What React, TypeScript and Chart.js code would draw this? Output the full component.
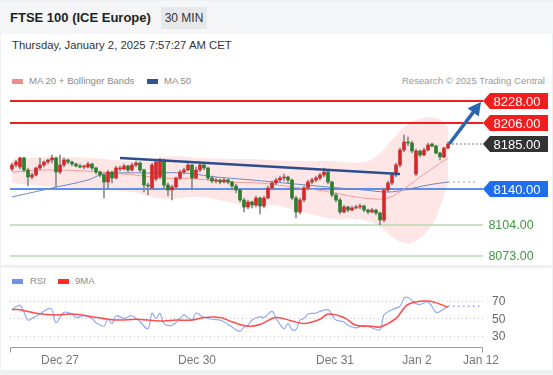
import React, { useEffect, useRef } from "react";
import { Chart, registerables } from "chart.js";

Chart.register(...registerables);

const FONT = '"Liberation Sans", Arial, Helvetica, sans-serif';

// ---------- price candles (30 min) ----------
const opens = [
  8160, 8164, 8162, 8171, 8159, 8152, 8154, 8161, 8164, 8167,
  8169, 8171, 8157, 8164, 8169, 8167, 8165, 8163, 8162, 8162,
  8165, 8161, 8157, 8154, 8147, 8157, 8151, 8160, 8160, 8163,
  8159, 8164, 8166, 8159, 8144, 8141, 8150, 8152, 8169, 8144,
  8139, 8142, 8151, 8157, 8159, 8164, 8151, 8159, 8164, 8161,
  8151, 8148, 8149, 8147, 8149, 8147, 8143, 8139, 8129, 8122,
  8127, 8124, 8131, 8123, 8131, 8141, 8146, 8149, 8151, 8152,
  8149, 8131, 8117, 8129, 8141, 8147, 8149, 8151, 8154, 8157,
  8147, 8134, 8129, 8117, 8122, 8119, 8121, 8122, 8123, 8119,
  8117, 8119, 8116, 8109, 8139, 8146, 8154, 8164, 8179, 8187,
  8186, 8155, 8178, 8174, 8179, 8185, 8183, 8176, 8172, 8181,
];
const highs = [
  8166, 8169, 8172, 8172, 8161, 8156, 8162, 8171, 8168, 8170,
  8174, 8172, 8174, 8171, 8170, 8168, 8166, 8165, 8164, 8167,
  8166, 8162, 8158, 8156, 8159, 8158, 8163, 8163, 8165, 8164,
  8166, 8168, 8167, 8160, 8146, 8166, 8169, 8171, 8170, 8146,
  8144, 8152, 8159, 8161, 8167, 8165, 8162, 8167, 8166, 8162,
  8153, 8151, 8150, 8151, 8150, 8148, 8145, 8140, 8131, 8129,
  8128, 8133, 8132, 8133, 8143, 8148, 8151, 8153, 8155, 8153,
  8150, 8133, 8131, 8143, 8149, 8151, 8153, 8156, 8161, 8159,
  8148, 8136, 8131, 8124, 8123, 8123, 8124, 8125, 8124, 8120,
  8121, 8120, 8117, 8141, 8148, 8156, 8166, 8181, 8194, 8192,
  8188, 8180, 8179, 8181, 8186, 8186, 8184, 8177, 8182, 8187,
];
const lows = [
  8158, 8162, 8160, 8157, 8143, 8150, 8153, 8159, 8162, 8165,
  8166, 8142, 8155, 8162, 8165, 8163, 8162, 8161, 8160, 8161,
  8159, 8155, 8152, 8131, 8141, 8146, 8150, 8158, 8159, 8157,
  8158, 8162, 8157, 8137, 8134, 8140, 8148, 8150, 8140, 8133,
  8129, 8140, 8149, 8155, 8158, 8139, 8150, 8157, 8159, 8149,
  8146, 8146, 8145, 8146, 8145, 8139, 8136, 8127, 8117, 8120,
  8121, 8122, 8115, 8121, 8130, 8139, 8144, 8147, 8148, 8146,
  8129, 8111, 8115, 8127, 8139, 8145, 8147, 8149, 8152, 8145,
  8132, 8127, 8115, 8116, 8117, 8118, 8120, 8120, 8117, 8115,
  8116, 8114, 8104, 8107, 8137, 8144, 8152, 8162, 8177, 8183,
  8176, 8153, 8172, 8173, 8178, 8182, 8175, 8169, 8171, 8180,
];
const closes = [
  8164, 8167, 8171, 8159, 8152, 8154, 8161, 8164, 8167, 8169,
  8171, 8157, 8164, 8169, 8167, 8165, 8163, 8162, 8163, 8165,
  8161, 8157, 8154, 8147, 8157, 8151, 8161, 8161, 8163, 8159,
  8164, 8166, 8159, 8144, 8143, 8164, 8167, 8169, 8144, 8139,
  8142, 8151, 8157, 8159, 8164, 8151, 8159, 8164, 8161, 8151,
  8148, 8149, 8147, 8149, 8147, 8143, 8139, 8129, 8122, 8127,
  8124, 8131, 8123, 8131, 8141, 8146, 8149, 8151, 8152, 8149,
  8131, 8117, 8129, 8141, 8147, 8149, 8151, 8154, 8157, 8147,
  8134, 8129, 8117, 8122, 8119, 8121, 8122, 8123, 8119, 8117,
  8119, 8116, 8109, 8139, 8146, 8154, 8164, 8179, 8187, 8186,
  8178, 8178, 8174, 8179, 8184, 8183, 8176, 8172, 8181, 8185,
];

// ---------- levels ----------
const resistanceLevels = [8228, 8206];
const lastPrice = 8185;
const pivotLevel = 8140;
const supportLevels = [8104, 8073];

// ---------- trend line & target arrow (candle index, price) ----------
const trendX = [27, 97];
const trendY = [8171, 8155];
const arrowX = [109.5, 117.25];
const arrowY = [8186, 8227];

// ---------- Bollinger bands / moving averages (candle index, price) ----------
const bbIdx = [0, 8, 20, 30, 35, 40, 47, 55, 60, 65, 70, 79, 88, 92, 95, 98, 101, 105, 107, 109];
const bbUpper = [8169, 8172, 8171, 8168, 8170, 8173, 8171, 8170, 8170, 8169, 8168, 8168, 8167, 8176, 8189, 8202, 8209, 8212, 8209, 8202];
const bbLower = [8146, 8143, 8140, 8137, 8132, 8130, 8132, 8126, 8122, 8124, 8120, 8111, 8109, 8102, 8092, 8086, 8088, 8104, 8122, 8145];

const ma20Idx = [0, 8, 18, 28, 38, 46, 54, 62, 70, 78, 86, 91, 94, 98, 102, 106, 109];
const ma20Val = [8157, 8159, 8158, 8155, 8151, 8150, 8147, 8146, 8142, 8138, 8132, 8130, 8131, 8140, 8152, 8163, 8171];

const ma50Idx = [0, 10, 19, 23, 36, 43, 51, 60, 68, 79, 88, 94, 98, 104, 109];
const ma50Val = [8132, 8141, 8149, 8155, 8156, 8156, 8152, 8149, 8146, 8142, 8139, 8137, 8139, 8144, 8147];

// ---------- RSI panel ----------
const rsiIdx = [0, 2, 4, 5, 7, 9, 10, 11, 13, 15, 16, 18, 20, 21, 23, 24, 25, 26, 28, 30, 32, 34, 35, 36, 37, 38, 40, 42, 43, 45, 46, 48, 50, 52, 53, 55, 57, 58, 59, 60, 62, 63, 65, 66, 68, 69, 70, 71, 72, 73, 74, 76, 77, 79, 80, 81, 83, 84, 86, 88, 90, 92, 93, 95, 97, 98, 99, 101, 102, 104, 106, 107, 109];
const rsiVal = [60, 65, 48, 50, 55, 61, 60, 45, 57, 55, 51, 53, 50, 45, 41, 49, 44, 53, 50, 53, 46, 38, 56, 50, 56, 44, 42, 50, 54, 48, 56, 51, 49, 48, 46, 40, 35, 40, 42, 48, 52, 51, 58, 50, 38, 44, 37, 37, 48, 50, 55, 56, 58, 60, 54, 48, 46, 42, 39, 42, 39, 37, 54, 60, 64, 73, 74, 67, 66, 69, 57, 58, 64];
const ma9Idx = [0, 2, 6, 11, 15, 20, 24, 27, 31, 34, 38, 41, 45, 48, 52, 55, 59, 62, 66, 70, 73, 77, 79, 83, 86, 90, 92, 96, 99, 104, 109];
const ma9Val = [60, 60, 56, 54, 55, 52, 49, 48, 49, 48, 47, 48, 48, 51, 51, 46, 41, 43, 51, 47, 44, 49, 55, 51, 42, 41, 40, 50, 66, 70, 63];
const rsiLevels = [70, 50, 30];

// ---------- time axis ----------
const tickPos = [12, 46.25, 80.75, 101.25, 117.25];
const tickLabels = ["Dec 27", "Dec 30", "Dec 31", "Jan 2", "Jan 12"];

const X_MIN = -0.5;
const X_MAX = 117.75;

const UP = "#d42a2c";
const DOWN = "#2f7d2f";
const RED = "#f21d1d";
const BLUE_LEVEL = "#5d8fee";
const GREEN_LEVEL = "#b3dab0";

const pts = (xs: number[], ys: number[]) => xs.map((x, k) => ({ x, y: ys[k] }));
const hline = (v: number) => [{ x: X_MIN, y: v }, { x: X_MAX, y: v }];

const levelLabelPlugin = {
  id: "levelLabels",
  afterDatasetsDraw(chart: any) {
    const { ctx, chartArea, scales } = chart;
    const xs = scales.x;
    const ys = scales.y;
    ctx.save();
    // target arrow
    const ax0 = xs.getPixelForValue(arrowX[0]);
    const ay0 = ys.getPixelForValue(arrowY[0]);
    const ax1 = xs.getPixelForValue(arrowX[1]);
    const ay1 = ys.getPixelForValue(arrowY[1]);
    const ang = Math.atan2(ay1 - ay0, ax1 - ax0);
    const headLen = 13;
    const headW = 7;
    const bx = ax1 - headLen * Math.cos(ang);
    const by = ay1 - headLen * Math.sin(ang);
    ctx.strokeStyle = "#2b66b0";
    ctx.fillStyle = "#2b66b0";
    ctx.lineWidth = 3.5;
    ctx.lineCap = "round";
    ctx.beginPath();
    ctx.moveTo(ax0, ay0);
    ctx.lineTo(bx, by);
    ctx.stroke();
    ctx.beginPath();
    ctx.moveTo(ax1, ay1);
    ctx.lineTo(bx + headW * Math.sin(ang), by - headW * Math.cos(ang));
    ctx.lineTo(bx - headW * Math.sin(ang), by + headW * Math.cos(ang));
    ctx.closePath();
    ctx.fill();

    // level tags
    const x0 = chartArea.right;
    const boxes = [
      ...resistanceLevels.map((v) => ({ v, bg: RED })),
      { v: lastPrice, bg: "#333333" },
      { v: pivotLevel, bg: "#1f6ef0" },
    ];
    ctx.font = `13px ${FONT}`;
    ctx.textAlign = "center";
    ctx.textBaseline = "middle";
    boxes.forEach((b) => {
      const y = Math.round(ys.getPixelForValue(b.v));
      ctx.fillStyle = b.bg;
      ctx.beginPath();
      ctx.moveTo(x0, y);
      ctx.lineTo(x0 + 7, y - 8);
      ctx.lineTo(x0 + 65, y - 8);
      ctx.lineTo(x0 + 65, y + 8);
      ctx.lineTo(x0 + 7, y + 8);
      ctx.closePath();
      ctx.fill();
      ctx.fillStyle = "#ffffff";
      ctx.fillText(b.v.toFixed(2), x0 + 34, y + 1);
    });
    ctx.font = `12.5px ${FONT}`;
    supportLevels.forEach((v) => {
      const y = Math.round(ys.getPixelForValue(v));
      ctx.fillStyle = "#3f9a3f";
      ctx.fillText(v.toFixed(2), x0 + 28, y + 1);
    });
    ctx.restore();
  },
};

const rsiAxisPlugin = {
  id: "rsiAxis",
  beforeDatasetsDraw(chart: any) {
    const { ctx, chartArea, scales } = chart;
    ctx.save();
    ctx.strokeStyle = "#c4c4c4";
    ctx.lineWidth = 1;
    ctx.setLineDash([1, 3]);
    rsiLevels.forEach((v) => {
      const y = Math.round(scales.y.getPixelForValue(v)) + 0.5;
      ctx.beginPath();
      ctx.moveTo(chartArea.left, y);
      ctx.lineTo(chartArea.right, y);
      ctx.stroke();
    });
    ctx.restore();
  },
  afterDraw(chart: any) {
    const { ctx, chartArea, scales } = chart;
    ctx.save();
    ctx.font = `12px ${FONT}`;
    ctx.fillStyle = "#666666";
    ctx.textAlign = "left";
    ctx.textBaseline = "middle";
    rsiLevels.forEach((v) => {
      const y = scales.y.getPixelForValue(v);
      ctx.fillText(String(v), chartArea.right + 9, y + 1);
    });
    // time axis
    const yb = Math.round(chartArea.bottom) + 0.5;
    ctx.strokeStyle = "#9a9a9a";
    ctx.lineWidth = 1;
    ctx.beginPath();
    ctx.moveTo(chartArea.left + 0.5, yb + 5);
    ctx.lineTo(chartArea.left + 0.5, yb);
    ctx.lineTo(chartArea.right - 0.5, yb);
    ctx.lineTo(chartArea.right - 0.5, yb + 5);
    ctx.stroke();
    ctx.fillStyle = "#777777";
    ctx.textAlign = "center";
    tickPos.forEach((p, k) => {
      ctx.fillText(tickLabels[k], scales.x.getPixelForValue(p), yb + 13);
    });
    ctx.restore();
  },
};

function mainConfig(): any {
  const idx = closes.map((_, i) => i);
  const colors = idx.map((i) => (closes[i] >= opens[i] ? UP : DOWN));
  const lineBase = { type: "line", pointRadius: 0, pointHoverRadius: 0, fill: false };
  return {
    type: "bar",
    data: {
      datasets: [
        {
          ...lineBase,
          data: pts(trendX, trendY),
          borderColor: "#2c4d8e",
          borderWidth: 2.5,
          order: 1,
        },
        {
          type: "bar",
          data: idx.map((i) => ({ x: i, y: [opens[i], closes[i]] })),
          backgroundColor: colors,
          barThickness: 3,
          minBarLength: 1,
          grouped: false,
          order: 2,
        },
        {
          type: "bar",
          data: idx.map((i) => ({ x: i, y: [lows[i], highs[i]] })),
          backgroundColor: "#8a8a8a",
          barThickness: 1,
          grouped: false,
          order: 3,
        },
        {
          ...lineBase,
          data: pts(ma20Idx, ma20Val),
          borderColor: "#f39a9a",
          borderWidth: 1,
          tension: 0.4,
          order: 6,
        },
        {
          ...lineBase,
          data: pts(ma50Idx, ma50Val),
          borderColor: "#6a88c4",
          borderWidth: 1,
          tension: 0.4,
          order: 6,
        },
        {
          ...lineBase,
          data: [{ x: ma50Idx[ma50Idx.length - 1], y: ma50Val[ma50Val.length - 1] }, { x: 116.5, y: ma50Val[ma50Val.length - 1] }],
          borderColor: "#7f9fd8",
          borderWidth: 1,
          borderDash: [2, 3],
          order: 6,
        },
        {
          ...lineBase,
          data: [{ x: 110, y: lastPrice }, { x: X_MAX, y: lastPrice }],
          borderColor: "#777777",
          borderWidth: 1,
          borderDash: [2, 2],
          order: 6,
        },
        ...resistanceLevels.map((v) => ({
          ...lineBase,
          data: hline(v),
          borderColor: RED,
          borderWidth: 2,
          order: 7,
        })),
        {
          ...lineBase,
          data: hline(pivotLevel),
          borderColor: BLUE_LEVEL,
          borderWidth: 2,
          order: 7,
        },
        ...supportLevels.map((v) => ({
          ...lineBase,
          data: hline(v),
          borderColor: GREEN_LEVEL,
          borderWidth: 1.5,
          order: 7,
        })),
        {
          ...lineBase,
          data: pts(bbIdx, bbUpper),
          borderWidth: 0,
          borderColor: "rgba(0,0,0,0)",
          tension: 0.4,
          fill: "+1",
          backgroundColor: "rgba(255,160,160,0.26)",
          order: 9,
        },
        {
          ...lineBase,
          data: pts(bbIdx, bbLower),
          borderWidth: 0,
          borderColor: "rgba(0,0,0,0)",
          tension: 0.4,
          order: 10,
        },
      ],
    },
    options: {
      animation: false,
      responsive: false,
      devicePixelRatio: 1,
      events: [],
      layout: { padding: { left: 10, right: 70, top: 0, bottom: 0 } },
      plugins: { legend: { display: false }, tooltip: { enabled: false } },
      scales: {
        x: { type: "linear", min: X_MIN, max: X_MAX, display: false, offset: false },
        y: { type: "linear", min: 8064, max: 8241, display: false },
      },
    },
    plugins: [levelLabelPlugin],
  };
}

function rsiConfig(): any {
  const lineBase = { type: "line", pointRadius: 0, pointHoverRadius: 0, fill: false };
  return {
    type: "line",
    data: {
      datasets: [
        { ...lineBase, data: pts(ma9Idx, ma9Val), borderColor: "#ff4d4d", borderWidth: 1.5, tension: 0.35 },
        { ...lineBase, data: pts(rsiIdx, rsiVal), borderColor: "#93abf3", borderWidth: 1.2, tension: 0.35 },
        {
          ...lineBase,
          data: [{ x: rsiIdx[rsiIdx.length - 1], y: rsiVal[rsiVal.length - 1] }, { x: X_MAX, y: rsiVal[rsiVal.length - 1] }],
          borderColor: "#8fa8f0",
          borderWidth: 1.5,
          borderDash: [1.5, 3.5],
        },
      ],
    },
    options: {
      animation: false,
      responsive: false,
      devicePixelRatio: 1,
      events: [],
      layout: { padding: { left: 10, right: 70, top: 0, bottom: 25 } },
      plugins: { legend: { display: false }, tooltip: { enabled: false } },
      scales: {
        x: { type: "linear", min: X_MIN, max: X_MAX, display: false },
        y: { type: "linear", min: 17, max: 82.7, display: false },
      },
    },
    plugins: [rsiAxisPlugin],
  };
}

const abs = (s: any) => ({ position: "absolute", ...s } as React.CSSProperties);

export default function App() {
  const mainRef = useRef<HTMLCanvasElement>(null);
  const rsiRef = useRef<HTMLCanvasElement>(null);

  useEffect(() => {
    const main = new Chart(mainRef.current as HTMLCanvasElement, mainConfig());
    const rsi = new Chart(rsiRef.current as HTMLCanvasElement, rsiConfig());
    return () => {
      main.destroy();
      rsi.destroy();
    };
  }, []);

  const legendText = { fontSize: 9.6, color: "#8c8c8c", lineHeight: "14px", whiteSpace: "nowrap" };

  return (
    <div
      style={abs({
        position: "fixed",
        left: 0,
        top: 0,
        width: 553,
        height: 375,
        background: "#eef0f2",
        fontFamily: FONT,
        overflow: "hidden",
      })}
    >
      <div style={abs({ left: 0, top: 1, width: 553, height: 33, background: "#f5f6f7" })} />
      <div style={abs({ left: 10, top: 9, fontSize: 13, fontWeight: "bold", color: "#222", lineHeight: "18px", whiteSpace: "nowrap" })}>
        FTSE 100 (ICE Europe)
      </div>
      <div
        style={abs({
          left: 161,
          top: 7,
          width: 46,
          height: 22,
          background: "#e6e8ea",
          fontSize: 12,
          color: "#333",
          lineHeight: "22px",
          textAlign: "center",
        })}
      >
        30 MIN
      </div>

      <div style={abs({ left: 1, top: 34, width: 551, height: 231, background: "#ffffff" })} />
      <div style={abs({ left: 12, top: 38, fontSize: 11.3, color: "#333", lineHeight: "14px", whiteSpace: "nowrap" })}>
        Thursday, January 2, 2025 7:57:27 AM CET
      </div>

      <div style={abs({ left: 12, top: 79, width: 11, height: 5, background: "#f28b8b" })} />
      <div style={abs({ left: 29, top: 74, ...legendText })}>MA 20 + Bollinger Bands</div>
      <div style={abs({ left: 147, top: 79, width: 11, height: 5, background: "#2f5597" })} />
      <div style={abs({ left: 164, top: 74, ...legendText })}>MA 50</div>
      <div style={abs({ right: 8, top: 74, ...legendText, color: "#9a9a9a" })}>Research © 2025 Trading Central</div>

      <canvas ref={mainRef} width={553} height={177} style={abs({ left: 0, top: 88, width: 553, height: 177 })} />

      <div style={abs({ left: 1, top: 268, width: 551, height: 102, background: "#ffffff" })} />
      <div style={abs({ left: 12, top: 279, width: 11, height: 5, background: "#6f8fe8" })} />
      <div style={abs({ left: 30, top: 274, ...legendText })}>RSI</div>
      <div style={abs({ left: 58, top: 279, width: 11, height: 5, background: "#ff2a2a" })} />
      <div style={abs({ left: 75, top: 274, ...legendText })}>9MA</div>

      <canvas ref={rsiRef} width={553} height={82} style={abs({ left: 0, top: 290, width: 553, height: 82 })} />
    </div>
  );
}
